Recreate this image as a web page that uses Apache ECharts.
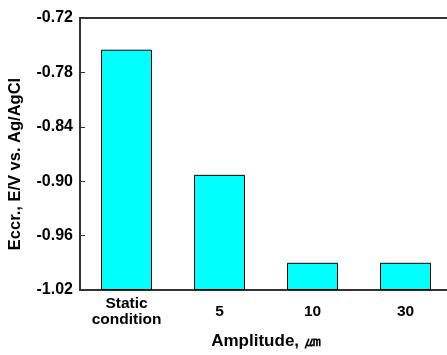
<!DOCTYPE html>
<html>
<head>
<meta charset="utf-8">
<script src="https://cdn.jsdelivr.net/npm/echarts@6/dist/echarts.min.js"></script>
<style>
  html, body { margin: 0; padding: 0; background: #fff; }
  #chart { width: 447px; height: 355px; }
</style>
</head>
<body>
<div id="chart"></div>
<script>
// 数据
const categories = ['Static\ncondition', '5', '10', '30'];
const potentials = [-0.755, -0.893, -0.990, -0.990];
const yTicks = { min: -1.02, max: -0.72, interval: 0.06 };

const fontColor = '#000';
const lineColor = '#333';
const font = 'Liberation Sans, Arial, sans-serif';

// bars must grow up from the axis bottom, not from 0: stack on an invisible base
const baseData = potentials.map(() => yTicks.min);
const barData = potentials.map(v => +(v - yTicks.min).toFixed(4));

const chart = echarts.init(document.getElementById('chart'));
chart.setOption({
  animation: false,
  grid: {
    left: 80,
    top: 18,
    width: 372, // plot runs past the right edge of the picture
    height: 272,
    outerBoundsMode: 'none',
    containLabel: false,
    show: true,
    borderColor: lineColor,
    borderWidth: 2,
  },
  xAxis: {
    type: 'category',
    data: categories,
    name: 'Amplitude, ㎛',
    nameLocation: 'middle',
    nameGap: 42,
    nameTextStyle: { color: fontColor, fontSize: 17, fontWeight: 'bold', fontFamily: font, verticalAlign: 'top' },
    axisLine: { lineStyle: { color: lineColor, width: 2 } },
    axisTick: { show: false },
    axisLabel: {
      color: fontColor,
      fontSize: 15.5,
      fontWeight: 'bold',
      fontFamily: font,
      verticalAlign: 'middle',
      lineHeight: 16,
      margin: 22,
      interval: 0,
    },
  },
  yAxis: {
    type: 'value',
    min: yTicks.min,
    max: yTicks.max,
    interval: yTicks.interval,
    name: 'Eccr., E/V vs. Ag/AgCl',
    nameLocation: 'middle',
    nameGap: 56,
    nameTextStyle: {
      color: fontColor, fontSize: 16.5, fontWeight: 'bold', fontFamily: font,
      padding: [0, 20, 0, 0],
    },
    axisLine: { show: true, lineStyle: { color: lineColor, width: 2 } },
    axisTick: { show: true, inside: true, length: 5, lineStyle: { color: lineColor } },
    splitLine: { show: false },
    axisLabel: {
      color: fontColor,
      fontSize: 16,
      fontWeight: 'bold',
      fontFamily: font,
      margin: 7,
      formatter: v => v.toFixed(2),
    },
  },
  series: [
    {
      type: 'bar',
      stack: 'e',
      stackStrategy: 'all',
      data: baseData,
      barWidth: 51,
      silent: true,
      itemStyle: { color: 'rgba(0,0,0,0)' },
    },
    {
      type: 'bar',
      stack: 'e',
      stackStrategy: 'all',
      data: barData,
      barWidth: 51,
      itemStyle: { color: '#00ffff', borderColor: '#000', borderWidth: 1 },
    },
  ],
});
</script>
</body>
</html>
